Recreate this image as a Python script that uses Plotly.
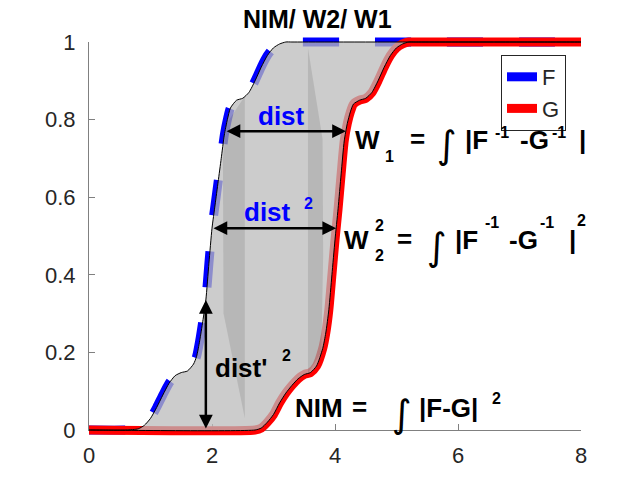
import numpy as np
import plotly.graph_objects as go

# Cumulative distribution F (left) and G (right), read as (x, value) pairs
F_x = [0.0, 0.6, 0.8, 0.9, 1.0, 1.1, 1.2, 1.3, 1.4, 1.5, 1.6, 1.7, 1.75, 1.8, 1.85, 1.9, 1.95,
       2.0, 2.05, 2.1, 2.15, 2.2, 2.25, 2.3, 2.4, 2.5, 2.6, 2.7, 2.8, 2.9, 3.0, 3.1, 3.2, 3.3, 8.0]
F_y = [0.0, 0.0, 0.003, 0.012, 0.03, 0.058, 0.09, 0.12, 0.14, 0.148, 0.152, 0.17, 0.19, 0.23,
       0.28, 0.335, 0.43, 0.52, 0.58, 0.64, 0.70, 0.76, 0.80, 0.83, 0.85, 0.855, 0.87, 0.90,
       0.935, 0.965, 0.985, 0.995, 1.0, 1.0, 1.0]

G_x = [0.0, 2.7, 2.8, 2.9, 3.0, 3.1, 3.2, 3.3, 3.4, 3.5, 3.6, 3.7, 3.8, 3.85, 3.9, 3.95,
       4.0, 4.05, 4.1, 4.15, 4.2, 4.25, 4.3, 4.4, 4.5, 4.6, 4.7, 4.8, 4.9, 5.0, 5.1, 5.2, 5.3, 8.0]
G_y = [0.0, 0.0, 0.005, 0.02, 0.04, 0.07, 0.095, 0.115, 0.132, 0.143, 0.148, 0.165, 0.21, 0.25,
       0.31, 0.40, 0.49, 0.57, 0.66, 0.745, 0.79, 0.82, 0.84, 0.85, 0.855, 0.87, 0.90, 0.935,
       0.965, 0.985, 0.995, 1.0, 1.0, 1.0]

x_ticks = [0, 2, 4, 6, 8]
y_ticks = [0, 0.2, 0.4, 0.6, 0.8, 1]
y_tick_text = ["0", "0.2", "0.4", "0.6", "0.8", "1"]

# levels / positions of the three distance arrows
dist_level = 0.77       # horizontal arrow "dist"
dist2_level = 0.52      # horizontal arrow "dist^2"
vdist_x = 1.9           # vertical arrow "dist'^2"

W, H = 639, 479
L, R, T, B = 89, 58, 34, 41
plot_h = H - T - B
unit_h = 388.0
pad = (plot_h / unit_h - 1) / 2          # extra y-range so thick lines at 0 and 1 are not clipped

FONT = "Liberation Sans"
AX_COL = "#808080"
TXT_COL = "#262626"

fig = go.Figure()

# empty trace so the subplot carrying the visible axes is created
fig.add_trace(go.Scatter(x=[], y=[], mode="lines", showlegend=False, hoverinfo="skip",
                         xaxis="x", yaxis="y"))

# thick coloured distributions (drawn first, the translucent area sits on top)
fig.add_trace(go.Scatter(x=F_x, y=F_y, mode="lines", name="F",
                         line=dict(color="#0000ff", width=9, dash="36px,36px", shape="spline", smoothing=0.6),
                         xaxis="x2", yaxis="y2"))
fig.add_trace(go.Scatter(x=G_x, y=G_y, mode="lines", name="G",
                         line=dict(color="#ff0000", width=9, shape="spline", smoothing=0.6),
                         xaxis="x2", yaxis="y2"))

# region between F and G
poly_x = list(F_x) + list(G_x[::-1])
poly_y = list(F_y) + list(G_y[::-1])
fig.add_trace(go.Scatter(x=poly_x, y=poly_y, mode="lines", fill="toself",
                         fillcolor="rgba(187,187,187,0.75)", line=dict(width=0, shape="spline", smoothing=0.6),
                         showlegend=False, hoverinfo="skip", xaxis="x2", yaxis="y2"))

# darker shading bands inside the area (below the upper shoulder of F,
# above the lower shoulder of G)
fa = float(np.interp(0.79, F_y, F_x))
fb = float(np.interp(0.86, F_y, F_x))
ga = float(np.interp(0.146, G_y, G_x))
gb = float(np.interp(0.2, G_y, G_x))
band1_x = [fa, fb, fb, fa - 0.05, fa - 0.06, fa]
band1_y = [float(np.interp(fa, F_x, F_y)), float(np.interp(fb, F_x, F_y)), 0.03, 0.3, 0.7,
           float(np.interp(fa, F_x, F_y))]
band2_x = [ga, gb, gb + 0.03, gb + 0.02, ga, ga]
band2_y = [float(np.interp(ga, G_x, G_y)), float(np.interp(gb, G_x, G_y)), 0.45, 0.75, 0.985,
           float(np.interp(ga, G_x, G_y))]
for bx, by in ((band1_x, band1_y), (band2_x, band2_y)):
    fig.add_trace(go.Scatter(x=bx, y=by, mode="lines", fill="toself",
                             fillcolor="rgba(0,0,0,0.10)", line=dict(width=0),
                             showlegend=False, hoverinfo="skip", xaxis="x2", yaxis="y2"))

# thin black outline of the area
fig.add_trace(go.Scatter(x=poly_x, y=poly_y, mode="lines",
                         line=dict(color="black", width=1, shape="spline", smoothing=0.6),
                         showlegend=False, hoverinfo="skip", xaxis="x2", yaxis="y2"))

# arrows
def arrow(x0, y0, x1, y1):
    fig.add_annotation(x=x1, y=y1, ax=x0, ay=y0, xref="x2", yref="y2", axref="x2", ayref="y2",
                       text="", showarrow=True, arrowside="end+start",
                       arrowhead=2, startarrowhead=2, arrowsize=1.1, startarrowsize=1.1,
                       arrowwidth=2.5, arrowcolor="black", standoff=0, startstandoff=0)

arrow(float(np.interp(dist_level, F_y, F_x)), dist_level,
      float(np.interp(dist_level, G_y, G_x)), dist_level)
arrow(float(np.interp(dist2_level, F_y, F_x)), dist2_level,
      float(np.interp(dist2_level, G_y, G_x)), dist2_level)
arrow(vdist_x, 0.0, vdist_x, float(np.interp(vdist_x, F_x, F_y)))

# text pieces (x = left edge, y = vertical centre, data coordinates)
def put(x, y, s, size=26, bold=True, color="black", family=FONT):
    fig.add_annotation(x=x, y=y, xref="x2", yref="y2", text=s, showarrow=False,
                       xanchor="left", yanchor="middle",
                       font=dict(family=family, size=size, color=color,
                                 weight="bold" if bold else "normal"))

def integral(x, y):
    put(x, y, "\u222b", size=38, bold=False, family="DejaVu Sans")

BLUE = "#0000ff"
put(2.71, 0.809, "dist", color=BLUE)
put(2.49, 0.563, "dist", color=BLUE)
put(3.46, 0.583, "2", size=16, color=BLUE)
put(2.02, 0.161, "dist'")
put(3.11, 0.191, "2", size=16)

# W1 = integral |F^-1 - G^-1|
put(4.29, 0.747, "W")
put(4.78, 0.706, "1", size=16)
put(5.19, 0.749, "=")
integral(5.62, 0.735)
put(6.08, 0.747, "|F")
put(6.57, 0.768, "-1", size=16)
put(6.98, 0.747, "-G")
put(7.50, 0.768, "-1", size=16)
put(7.93, 0.747, "|")

# W2^2 = integral |F^-1 - G^-1|^2
put(4.11, 0.490, "W")
put(4.62, 0.528, "2", size=16)
put(4.62, 0.451, "2", size=16)
put(4.98, 0.492, "=")
integral(5.46, 0.471)
put(5.92, 0.490, "|F")
put(6.41, 0.535, "-1", size=16)
put(6.80, 0.490, "-G")
put(7.30, 0.535, "-1", size=16)
put(7.77, 0.490, "|")
put(7.90, 0.541, "2", size=16)

# NIM = integral |F-G|^2
put(3.32, 0.058, "NIM")
put(4.24, 0.060, "=")
integral(4.89, 0.040)
put(5.33, 0.058, "|F-G|")
put(6.52, 0.081, "2", size=16)

# title
fig.add_annotation(x=(317 - L) / (W - L - R), y=(H - B - 19) / plot_h, xref="paper", yref="paper",
                   text="NIM/ W2/ W1", showarrow=False, xanchor="center", yanchor="middle",
                   font=dict(family=FONT, size=25, color="black", weight="bold"))

d0 = pad / (1 + 2 * pad)
d1 = (1 + pad) / (1 + 2 * pad)
fig.update_layout(
    width=W, height=H,
    margin=dict(l=L, r=R, t=T, b=B, pad=0),
    paper_bgcolor="white", plot_bgcolor="rgba(0,0,0,0)",
    showlegend=True,
    legend=dict(x=(566 - L) / (W - L - R), y=(H - B - 55) / plot_h, xanchor="right", yanchor="top",
                bgcolor="white", bordercolor="#262626", borderwidth=1,
                font=dict(family=FONT, size=22, color=TXT_COL), itemwidth=30,
                tracegroupgap=0),
    # visible axes spanning exactly [0, 8] x [0, 1]
    xaxis=dict(domain=[0, 1], range=[0, 8], anchor="y", showgrid=False, zeroline=False,
               showline=True, linecolor=AX_COL, linewidth=1, ticks="inside", ticklen=6,
               tickcolor=AX_COL, tickvals=x_ticks, ticklabelstandoff=6,
               tickfont=dict(family=FONT, size=22, color=TXT_COL)),
    yaxis=dict(domain=[d0, d1], range=[0, 1], anchor="x", showgrid=False, zeroline=False,
               showline=True, linecolor=AX_COL, linewidth=1, ticks="inside", ticklen=6,
               tickcolor=AX_COL, tickvals=y_ticks, ticktext=y_tick_text, ticklabelstandoff=8,
               tickfont=dict(family=FONT, size=22, color=TXT_COL)),
    # data axes with a little room so the thick lines at 0 and 1 are not clipped
    xaxis2=dict(domain=[0, 1], range=[0, 8], anchor="y2", visible=False),
    yaxis2=dict(domain=[0, 1], range=[-pad, 1 + pad], anchor="x2", visible=False),
)

fig.write_html("out.html")
